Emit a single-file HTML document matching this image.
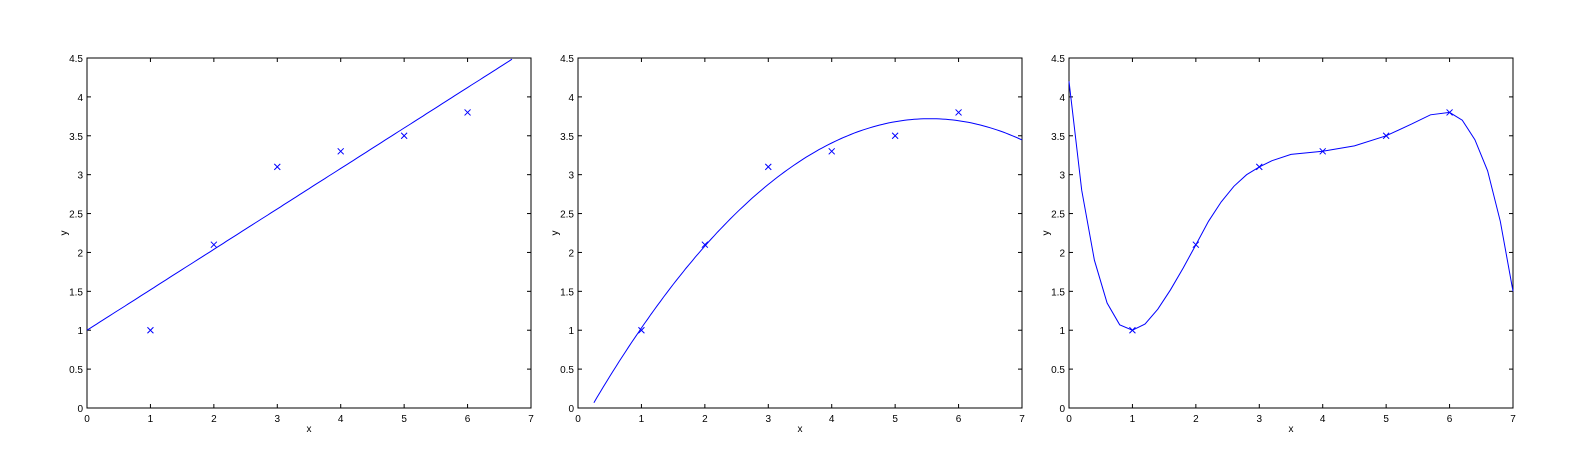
<!DOCTYPE html>
<html><head><meta charset="utf-8"><style>
body{margin:0;background:#fff;}
svg{display:block;font-family:"Liberation Sans",sans-serif;}
</style></head><body>
<svg id="c" width="1571" height="462"></svg>
<script>
const xs = [1,2,3,4,5,6];
const ys = [1.0,2.1,3.1,3.3,3.5,3.8];
const linearCoef = [1.0,0.52];
const quadVertex = [5.55,3.72,-0.13];
const curveX = [0,0.2,0.4,0.6,0.8,1,1.2,1.4,1.6,1.8,2,2.2,2.4,2.6,2.8,3,3.2,3.5,4,4.5,5,5.4,5.7,6,6.2,6.4,6.6,6.8,7];
const curveY = [4.2,2.8,1.9,1.35,1.07,1.0,1.08,1.27,1.52,1.8,2.1,2.4,2.65,2.85,3.0,3.1,3.18,3.26,3.3,3.37,3.5,3.65,3.77,3.8,3.7,3.45,3.05,2.4,1.5];
const xTicks = [0,1,2,3,4,5,6,7];
const yTicks = [0,0.5,1,1.5,2,2.5,3,3.5,4,4.5];
const NS="http://www.w3.org/2000/svg";
const svg=document.getElementById('c');
function mk(t,a,p){const e=document.createElementNS(NS,t);for(const k in a)e.setAttribute(k,a[k]);(p||svg).appendChild(e);return e;}
const lefts=[87,578,1069], W=444, T=58, B=408;
lefts.forEach((L,pi)=>{
  const g=mk('g',{});
  
  
  const sx=v=>L+v/7*W, sy=v=>B-v/4.5*(B-T);
  const box=mk('rect',{x:L,y:T,width:W,height:B-T,fill:'none',stroke:'#000','stroke-width':1},g);
  
  
  xTicks.forEach(v=>{
    mk('line',{x1:sx(v),x2:sx(v),y1:B,y2:B-4,stroke:'#000'},g);
    mk('line',{x1:sx(v),x2:sx(v),y1:T,y2:T+4,stroke:'#000'},g);
    const t=mk('text',{x:sx(v),y:B+14,'font-size':10,'text-anchor':'middle'},g);t.textContent=v;
    
    
  });
  yTicks.forEach(v=>{
    mk('line',{x1:L,x2:L+4,y1:sy(v),y2:sy(v),stroke:'#000'},g);
    mk('line',{x1:L+W,x2:L+W-4,y1:sy(v),y2:sy(v),stroke:'#000'},g);
    const t=mk('text',{x:L-4,y:sy(v)+4,'font-size':10,'text-anchor':'end'},g);t.textContent=v;
    
    
  });
  const xl=mk('text',{x:L+W/2,y:B+24,'font-size':10,'text-anchor':'middle'},g);xl.textContent='x';
  
  
  const yl=mk('text',{x:L-20,y:(T+B)/2,'font-size':10,'text-anchor':'middle',transform:`rotate(-90 ${L-20} ${(T+B)/2})`},g);yl.textContent='y';
  
  
  // fit curve
  let px=[],py=[];
  if(pi===0){for(let x=0;x<=7;x+=0.05){px.push(x);py.push(linearCoef[0]+linearCoef[1]*x);}}
  else if(pi===1){for(let x=0;x<=7.001;x+=0.05){px.push(x);py.push(quadVertex[2]*(x-quadVertex[0])**2+quadVertex[1]);}}
  else {px=curveX;py=curveY;}
  let pts=[];
  for(let i=0;i<px.length;i++){if(py[i]>=0&&py[i]<=4.5)pts.push(sx(px[i]).toFixed(1)+','+sy(py[i]).toFixed(1));}
  const pl=mk('polyline',{points:pts.join(' '),fill:'none',stroke:'#0000ff','stroke-width':1},g);
  
  
  xs.forEach((x,i)=>{
    const cx=sx(x),cy=sy(ys[i]);
    const m=mk('path',{d:`M${cx-3},${cy-3}L${cx+3},${cy+3}M${cx-3},${cy+3}L${cx+3},${cy-3}`,stroke:'#0000ff','stroke-width':1},g);
    
    
  });
});
</script>
</body></html>
